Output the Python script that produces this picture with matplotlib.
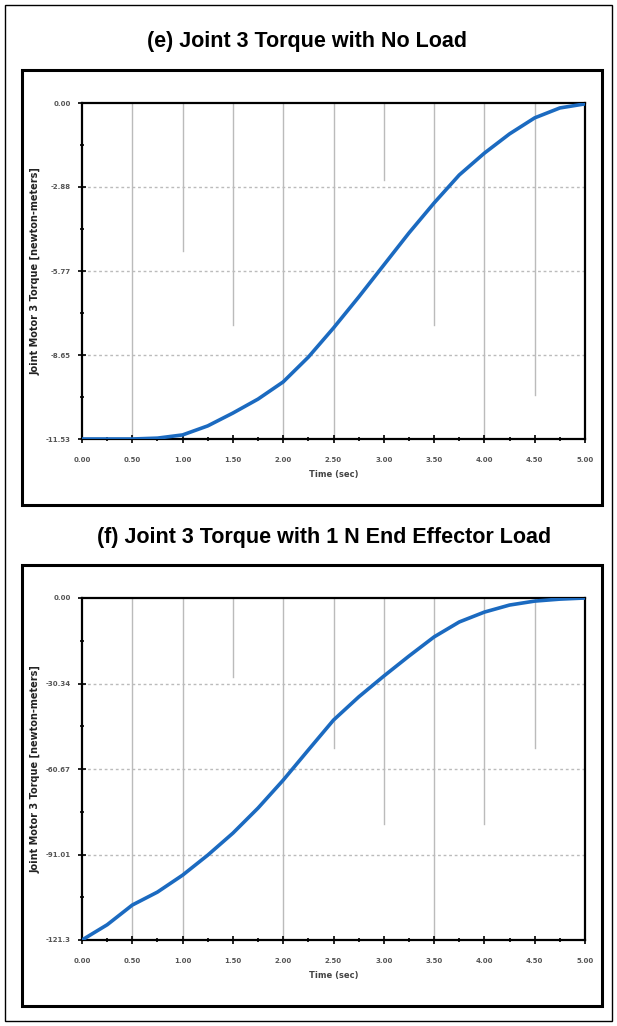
import matplotlib.pyplot as plt
from matplotlib.patches import Rectangle
from matplotlib.ticker import FixedLocator, MultipleLocator

# time samples (s)
time_s = [0.0, 0.25, 0.5, 0.75, 1.0, 1.25, 1.5, 1.75, 2.0, 2.25, 2.5,
          2.75, 3.0, 3.25, 3.5, 3.75, 4.0, 4.25, 4.5, 4.75, 5.0]

# joint 3 torque, no load
torque_no_load = [-11.53, -11.53, -11.53, -11.50, -11.39, -11.08, -10.64,
                  -10.16, -9.57, -8.72, -7.72, -6.66, -5.56, -4.46, -3.43,
                  -2.47, -1.72, -1.06, -0.51, -0.17, -0.03]

# joint 3 torque, 1 N end effector load
torque_1n_load = [-121.3, -115.9, -108.9, -104.3, -98.3, -91.2, -83.4,
                  -74.5, -64.6, -53.9, -43.3, -35.1, -27.7, -20.6, -13.8,
                  -8.5, -5.0, -2.5, -1.1, -0.4, 0.0]

x_ticks = [0.0, 0.5, 1.0, 1.5, 2.0, 2.5, 3.0, 3.5, 4.0, 4.5, 5.0]
x_tick_labels = ["0.00", "0.50", "1.00", "1.50", "2.00", "2.50",
                 "3.00", "3.50", "4.00", "4.50", "5.00"]

y_ticks_e = [0.0, -2.88, -5.77, -8.65, -11.53]
y_labels_e = ["0.00", "-2.88", "-5.77", "-8.65", "-11.53"]
y_ticks_f = [0.0, -30.34, -60.67, -91.01, -121.3]
y_labels_f = ["0.00", "-30.34", "-60.67", "-91.01", "-121.3"]

# how far each vertical grid line (0.5 .. 4.5 s) reaches down from the top
grid_reach_e = [1.0, 0.44, 0.66, 1.0, 1.0, 0.23, 0.66, 1.0, 0.87]
grid_reach_f = [1.0, 1.0, 0.23, 1.0, 0.44, 0.66, 1.0, 0.66, 0.44]

W, H = 617, 1026
LINE_BLUE = "#1b6ac0"

fig = plt.figure(figsize=(W / 100, H / 100), dpi=100)


def px_axes(left, top, right, bottom):
    return fig.add_axes([left / W, 1 - bottom / H,
                         (right - left) / W, (bottom - top) / H])


def frame(left, top, right, bottom, lw):
    fig.patches.append(Rectangle((left / W, 1 - bottom / H),
                                 (right - left) / W, (bottom - top) / H,
                                 transform=fig.transFigure, fill=False,
                                 edgecolor="black", linewidth=lw))


def torque_panel(title, title_xy, box, y_vals, y_ticks, y_labels, grid_reach):
    left, top, right, bottom = box
    frame(22, top - 33, 602, bottom + 66, 2.2)
    fig.text(title_xy[0] / W, 1 - title_xy[1] / H, title,
             ha="center", va="center", fontsize=15.5, fontweight="bold",
             family="Liberation Sans")
    ax = px_axes(left, top, right, bottom)
    ax.plot(time_s, y_vals, color=LINE_BLUE, linewidth=2.6, zorder=3)
    ax.set_xlim(0, 5)
    ax.set_ylim(y_ticks[-1], y_ticks[0])

    ax.set_xticks(x_ticks)
    ax.set_xticklabels(x_tick_labels)
    ax.xaxis.set_minor_locator(MultipleLocator(0.25))
    ax.yaxis.set_major_locator(FixedLocator(y_ticks))
    ax.set_yticklabels(y_labels)
    step = (y_ticks[0] - y_ticks[1]) / 2
    ax.yaxis.set_minor_locator(FixedLocator(
        [y_ticks[0] - step * k for k in range(1, 8, 2)]))
    ax.tick_params(which="both", direction="inout", width=1.2,
                   labelsize=5, color="black")
    ax.tick_params(axis="x", pad=10)
    ax.tick_params(axis="y", pad=5)
    ax.tick_params(which="major", length=6)
    ax.tick_params(which="minor", length=3)
    for lab in ax.get_xticklabels() + ax.get_yticklabels():
        lab.set_fontweight("bold")
        lab.set_color("#555555")

    for x, reach in zip(x_ticks[1:], grid_reach):
        ax.axvline(x, ymin=1 - reach, ymax=1, color="#bbbbbb",
                   linewidth=1.0, zorder=1)
    for y in y_ticks[1:-1]:
        ax.axhline(y, color="#bbbbbb", linewidth=1.0,
                   linestyle=(0, (2, 2)), zorder=1)

    for s in ax.spines.values():
        s.set_linewidth(1.6)
    ax.set_xlabel("Time (sec)", fontsize=6, fontweight="bold",
                  labelpad=5, color="#444444")
    ax.set_ylabel("Joint Motor 3 Torque [newton-meters]", fontsize=7,
                  fontweight="bold", color="#222222")
    ax.yaxis.set_label_coords(-0.082, 0.5)
    return ax


torque_panel("(e) Joint 3 Torque with No Load", (307, 42),
             (82, 103, 585, 439),
             torque_no_load, y_ticks_e, y_labels_e, grid_reach_e)

torque_panel("(f) Joint 3 Torque with 1 N End Effector Load", (324, 537),
             (82, 598, 585, 940),
             torque_1n_load, y_ticks_f, y_labels_f, grid_reach_f)

# thin border round the whole page
frame(5, 5, 612, 1021, 1.0)

fig.savefig("out.png", dpi=100)
